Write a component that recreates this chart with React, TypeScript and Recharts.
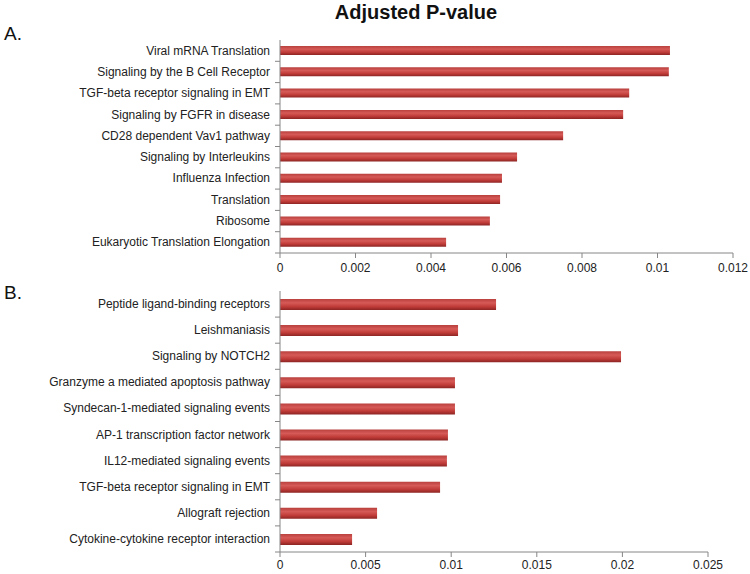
import { BarChart, Bar, XAxis, YAxis } from 'recharts';

const pathwaysA = [
  'Viral mRNA Translation',
  'Signaling by the B Cell Receptor',
  'TGF-beta receptor signaling in EMT',
  'Signaling by FGFR in disease',
  'CD28 dependent Vav1 pathway',
  'Signaling by Interleukins',
  'Influenza Infection',
  'Translation',
  'Ribosome',
  'Eukaryotic Translation Elongation',
];
const pvalA = [0.01033, 0.0103, 0.00925, 0.00909, 0.0075, 0.00628, 0.00588, 0.00583, 0.00556, 0.0044];
const ticksA = [0, 0.002, 0.004, 0.006, 0.008, 0.01, 0.012];

const pathwaysB = [
  'Peptide ligand-binding receptors',
  'Leishmaniasis',
  'Signaling by NOTCH2',
  'Granzyme a mediated apoptosis pathway',
  'Syndecan-1-mediated signaling events',
  'AP-1 transcription factor network',
  'IL12-mediated signaling events',
  'TGF-beta receptor signaling in EMT',
  'Allograft rejection',
  'Cytokine-cytokine receptor interaction',
];
const pvalB = [0.01262, 0.0104, 0.01992, 0.01022, 0.01022, 0.00981, 0.00975, 0.00935, 0.00567, 0.00421];
const ticksB = [0, 0.005, 0.01, 0.015, 0.02, 0.025];

const FONT = '"Liberation Sans", Arial, sans-serif';
const AXIS = '#868686';

const dataA = pathwaysA.map((name, i) => ({ name, value: pvalA[i] }));
const dataB = pathwaysB.map((name, i) => ({ name, value: pvalB[i] }));

// category tick with Excel-like tick mark on the band boundary
function makeTick(band: number) {
  return (props: any) => {
    const { x, y, payload } = props;
    return (
      <g>
        <line x1={x + 3} x2={x + 8} y1={y + band / 2} y2={y + band / 2} stroke={AXIS} />
        <text x={x - 2} y={y} textAnchor="end" dominantBaseline="central" fontSize={12} fill="#222" fontFamily={FONT}>
          {payload.value}
        </text>
      </g>
    );
  };
}

function Gradient({ id }: { id: string }) {
  return (
    <defs>
      <linearGradient id={id} x1="0" y1="0" x2="0" y2="1">
        <stop offset="0%" stopColor="#b8403d" />
        <stop offset="35%" stopColor="#d65a57" />
        <stop offset="70%" stopColor="#bf3b38" />
        <stop offset="100%" stopColor="#8c2523" />
      </linearGradient>
    </defs>
  );
}

function PanelA() {
  return (
    <BarChart
      width={750}
      height={275}
      data={dataA}
      layout="vertical"
      margin={{ top: 40, right: 17, bottom: 0, left: 0 }}
    >
      <Gradient id="gradA" />
      <XAxis
        type="number"
        domain={[0, 0.012]}
        ticks={ticksA}
        height={22}
        stroke={AXIS}
        tickSize={5}
        tick={{ fontSize: 12, fill: '#222', fontFamily: FONT, dy: 3 }}
        interval={0}
      />
      <YAxis
        type="category"
        dataKey="name"
        width={280}
        stroke={AXIS}
        tickLine={false}
        tick={makeTick(21.3)}
        interval={0}
      />
      <Bar dataKey="value" fill="url(#gradA)" barSize={9} isAnimationActive={false} />
    </BarChart>
  );
}

function PanelB() {
  return (
    <BarChart
      width={750}
      height={294}
      data={dataB}
      layout="vertical"
      margin={{ top: 11, right: 42, bottom: 0, left: 0 }}
    >
      <Gradient id="gradB" />
      <XAxis
        type="number"
        domain={[0, 0.025]}
        ticks={ticksB}
        height={22}
        stroke={AXIS}
        tickSize={5}
        tick={{ fontSize: 12, fill: '#222', fontFamily: FONT, dy: 1 }}
        interval={0}
      />
      <YAxis
        type="category"
        dataKey="name"
        width={280}
        stroke={AXIS}
        tickLine={false}
        tick={makeTick(26.1)}
        interval={0}
      />
      <Bar dataKey="value" fill="url(#gradB)" barSize={11} isAnimationActive={false} />
    </BarChart>
  );
}

export default function App() {
  return (
    <div style={{ position: 'absolute', left: 0, top: 0, width: 750, height: 574, background: '#fff', fontFamily: FONT }}>
      <div style={{ position: 'absolute', left: 0, top: 0, width: 750, height: 275 }}>
        <PanelA />
      </div>
      <div style={{ position: 'absolute', left: 0, top: 280, width: 750, height: 294 }}>
        <PanelB />
      </div>
      <div style={{ position: 'absolute', left: 0, top: 1, width: 832, textAlign: 'center', fontSize: 20, fontWeight: 'bold', color: '#111' }}>
        Adjusted P-value
      </div>
      <div style={{ position: 'absolute', left: 4, top: 23, fontSize: 19, color: '#111' }}>A.</div>
      <div style={{ position: 'absolute', left: 4, top: 282, fontSize: 19, color: '#111' }}>B.</div>
    </div>
  );
}
